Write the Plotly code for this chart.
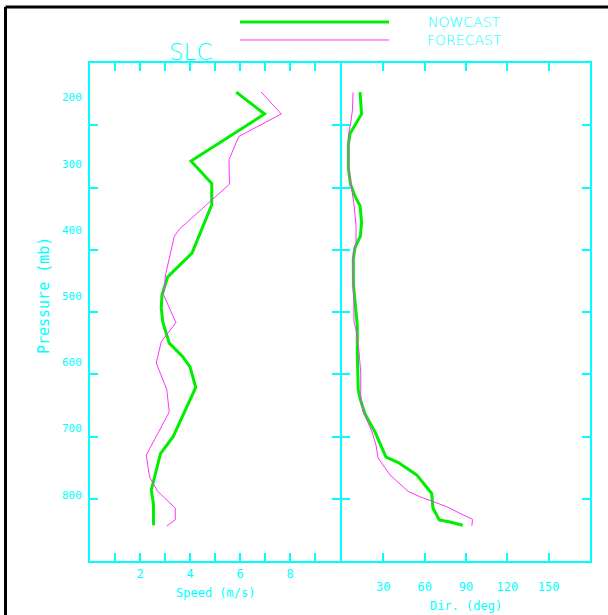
import numpy as np
import plotly.graph_objects as go

# ---------------- data ----------------
nowcast_speed_p = [192, 225, 296, 330, 362, 435, 471, 498, 518, 539, 571, 591, 607, 638, 712, 738, 793, 815, 846]
nowcast_speed = [5.85, 6.98, 4.04, 4.87, 4.87, 4.08, 3.11, 2.88, 2.85, 2.91, 3.17, 3.70, 4.0, 4.23, 3.33, 2.82, 2.45, 2.54, 2.54]

forecast_speed_p = [192, 225, 259, 294, 331, 399, 410, 468, 498, 540, 569, 601, 641, 675, 740, 773, 795, 820, 838, 847]
forecast_speed = [6.85, 7.65, 5.95, 5.56, 5.58, 3.57, 3.37, 3.02, 2.94, 3.44, 2.85, 2.65, 3.07, 3.17, 2.25, 2.38, 2.71, 3.41, 3.41, 3.07]

nowcast_dir_p = [192, 225, 255, 272, 307, 331, 349, 364, 388, 409, 427, 444, 483, 507, 544, 586, 642, 658, 678,
                 705, 743, 751, 770, 798, 820, 838, 841, 846]
nowcast_dir = [13.1, 14.2, 5.8, 4.6, 4.6, 6.2, 9.4, 13.1, 14.2, 13.4, 9.4, 8.2, 8.3, 9.4, 11.1, 11.1, 11.8, 13.6, 16.7,
               23.9, 31.9, 40.6, 54.2, 65.1, 66.0, 70.6, 78.4, 87.6]

forecast_dir_p = [192.5, 219, 240, 258, 300, 334, 362, 394, 420, 435, 486, 539, 551, 583, 615, 652, 673, 705, 725,
                  744, 770, 795, 803, 818, 828, 837, 847]
forecast_dir = [8.0, 7.6, 6.2, 4.6, 4.4, 6.9, 8.7, 10.2, 10.2, 8.2, 8.2, 8.7, 10.2, 12.3, 13.6, 13.6, 15.0, 21.8, 24.7,
                26.1, 34.8, 48.1, 56.6, 76.0, 85.6, 94.7, 94.3]

pressure_ticks = [200, 300, 400, 500, 600, 700, 800]
speed_ticks = [2, 4, 6, 8]
dir_ticks = [30, 60, 90, 120, 150]

station = "SLC"
series_names = ["NOWCAST", "FORECAST"]

# ---------------- style ----------------
CYAN = "#00FFFF"
GREEN = "#00EE00"
MAGENTA = "#FF33FF"
MONO = "DejaVu Sans Mono"

p_range = [900, 148]
spd_range = [0, 10]
dir_range = [0, 180]

fig = go.Figure()
fig.add_trace(go.Scatter(x=nowcast_speed, y=nowcast_speed_p, mode="lines", name=series_names[0],
                         line=dict(color=GREEN, width=3), xaxis="x", yaxis="y", showlegend=False))
fig.add_trace(go.Scatter(x=forecast_speed, y=forecast_speed_p, mode="lines", name=series_names[1],
                         line=dict(color=MAGENTA, width=1), xaxis="x", yaxis="y", showlegend=False))
fig.add_trace(go.Scatter(x=nowcast_dir, y=nowcast_dir_p, mode="lines", name=series_names[0],
                         line=dict(color=GREEN, width=3), xaxis="x2", yaxis="y2", showlegend=False))
fig.add_trace(go.Scatter(x=forecast_dir, y=forecast_dir_p, mode="lines", name=series_names[1],
                         line=dict(color=MAGENTA, width=1), xaxis="x2", yaxis="y2", showlegend=False))

p_minor = list(np.linspace(p_range[1], p_range[0], 9)[1:-1])
spd_minor = list(np.arange(spd_range[0] + 1, spd_range[1], 1))
dir_minor = list(np.arange(dir_range[0] + 30, dir_range[1], 30))

axis_common = dict(showline=True, linecolor=CYAN, linewidth=2, mirror="ticks", showgrid=False,
                   zeroline=False, ticks="", tickfont=dict(family=MONO, size=12, color=CYAN))
minor_common = dict(ticks="inside", ticklen=8, tickwidth=1.5, tickcolor=CYAN, showgrid=False)

fig.update_layout(
    width=608, height=615,
    margin=dict(l=90, r=18, t=63, b=54),
    paper_bgcolor="white", plot_bgcolor="white",
    xaxis=dict(domain=[0, 0.5], range=spd_range, tickmode="array", tickvals=speed_ticks,
               ticklabelstandoff=1, minor=dict(tickmode="array", tickvals=spd_minor, **minor_common),
               anchor="y", **axis_common),
    xaxis2=dict(domain=[0.504, 1], range=dir_range, tickmode="array", tickvals=dir_ticks,
                ticklabelstandoff=14, minor=dict(tickmode="array", tickvals=dir_minor, **minor_common),
                anchor="y2", **axis_common),
    yaxis=dict(range=p_range, tickmode="array", tickvals=pressure_ticks, ticklabelstandoff=4,
               minor=dict(tickmode="array", tickvals=p_minor, **minor_common), anchor="x",
               **{**axis_common, "tickfont": dict(family=MONO, size=11, color=CYAN)}),
    yaxis2=dict(range=p_range, matches="y", showticklabels=False,
                minor=dict(tickmode="array", tickvals=p_minor, **minor_common), anchor="x2", **axis_common),
)

ann_font = dict(family=MONO, color=CYAN)
fig.add_annotation(text="Speed (m/s)", xref="x domain", yref="paper", x=0.5, y=-0.064,
                   showarrow=False, xanchor="center", yanchor="middle", font=dict(size=12, **ann_font))
fig.add_annotation(text="Dir. (deg)", xref="x2 domain", yref="paper", x=0.5, y=-0.09,
                   showarrow=False, xanchor="center", yanchor="middle", font=dict(size=12, **ann_font))
fig.add_annotation(text="Pressure (mb)", xref="paper", yref="paper", x=-0.092, y=0.532, textangle=-90,
                   showarrow=False, xanchor="center", yanchor="middle", font=dict(size=15, **ann_font))
fig.add_annotation(text=station, xref="paper", yref="paper", x=0.2, y=1.023,
                   showarrow=False, xanchor="center", yanchor="middle",
                   font=dict(size=23, family="DejaVu Sans", weight=200, color=CYAN))

# legend
leg_y = [1.0823, 1.0462]
leg_colors = [GREEN, MAGENTA]
leg_widths = [3, 1]
for name, yy, c, w in zip(series_names, leg_y, leg_colors, leg_widths):
    fig.add_shape(type="line", xref="paper", yref="paper", x0=0.3, x1=0.598, y0=yy, y1=yy,
                  line=dict(color=c, width=w))
    fig.add_annotation(text=name, xref="paper", yref="paper", x=0.748, y=yy, showarrow=False,
                       xanchor="center", yanchor="middle",
                       font=dict(size=14, family="DejaVu Sans", weight=200, color=CYAN))

# outer black frame (only left & top edges are inside the picture)
fig.add_shape(type="line", xref="paper", yref="paper", x0=-0.169, x1=-0.169, y0=-0.2, y1=1.1124,
              line=dict(color="black", width=3), layer="below")
fig.add_shape(type="line", xref="paper", yref="paper", x0=-0.169, x1=1.2, y0=1.1124, y1=1.1124,
              line=dict(color="black", width=3), layer="below")

fig.write_html("out.html", config={"displayModeBar": False},
               post_script="document.body.style.margin='0';document.body.style.overflow='hidden';")
